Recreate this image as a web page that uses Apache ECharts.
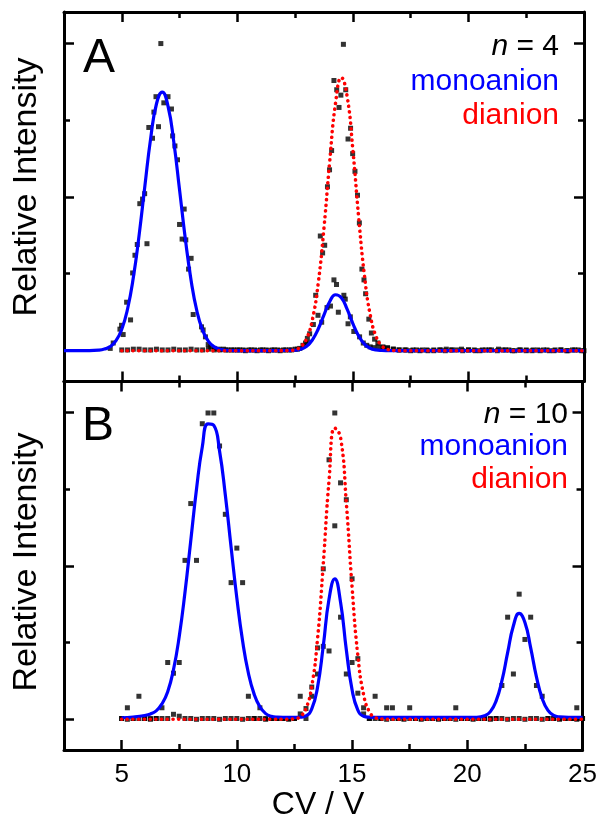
<!DOCTYPE html>
<html>
<head>
<meta charset="utf-8">
<script src="https://cdn.jsdelivr.net/npm/echarts@6/dist/echarts.min.js"></script>
<style>
  html, body { margin: 0; padding: 0; background: #fff; }
  #chart { width: 600px; height: 818px; }
</style>
</head>
<body>
<div id="chart"></div>
<script>
// ---- Axis ticks (CV / V and relative intensity) ----
const cvMajorTicks = [5, 10, 15, 20, 25];
const cvMinorTicks = [7.5, 12.5, 17.5, 22.5];
const intMajorTicks = [0, 2, 4];
const intMinorTicks = [1, 3];

// ---- Panel A (n = 4): measured points [CV, intensity] ----
const monoA = [
  [4.5,0.03],[4.63,0.10],[4.92,0.28],[4.99,0.33],[5.06,0.21],[5.21,0.63],[5.38,0.40],[5.47,1.01],
  [5.57,1.24],[5.67,1.38],[5.78,1.91],[5.9,1.97],[5.99,2.04],[6.09,1.39],[6.17,2.90],[6.33,2.76],
  [6.39,3.10],[6.48,3.30],[6.59,2.91],[6.69,3.99],[6.82,3.22],[7.0,3.30],[7.15,3.14],[7.2,2.79],
  [7.30,2.66],[7.41,2.48],[7.5,1.64],[7.61,1.45],[7.70,1.84],[7.77,1.44],[7.89,1.06],[8.0,1.20],
  [8.09,0.47],[8.45,0.31],[8.52,0.27],[8.62,0.18],[8.74,0.08],[8.85,0.05],[9.0,0.03],[9.2,0.02],
  [9.4,0.02],[9.6,0.01],[9.85,0.01],[10.1,0.01],[10.35,0.0],[10.6,0.01],[10.85,0.0],[11.1,0.01],
  [11.35,0.0],[11.6,0.01],[11.85,0.0],[12.1,0.01],[12.35,0.01],[12.6,0.02],[12.84,0.07],[13.03,0.10],
  [13.13,0.22],[13.49,0.46],[13.65,0.37],[13.88,0.56],[14.03,0.58],[14.18,0.92],[14.29,0.86],[14.37,0.50],
  [14.61,0.72],[14.67,0.67],[14.79,0.35],[14.89,0.44],[15.04,0.25],[15.29,0.18],[15.45,0.10],[15.6,0.07],
  [15.75,0.05],[15.9,0.04],[16.1,0.05],[16.3,0.04],[16.5,0.03],[16.75,0.02],[17.0,0.01],[17.3,0.01],
  [17.6,0.01],[17.9,0.0],[18.2,0.01],[18.5,0.0],[18.8,0.01],[19.04,0.02],[19.3,0.01],[19.7,0.02],
  [20.0,0.01],[20.3,0.0],[20.6,0.01],[20.9,0.01],[21.3,0.02],[21.6,0.01],[21.9,0.0],[22.2,0.01],
  [22.5,0.0],[22.8,0.01],[23.1,0.0],[23.4,0.01],[23.7,0.0],[24.0,0.01],[24.3,0.0],[24.6,0.01],[24.9,0.0]
];
const diA = [
  [5.0,0.01],[5.25,0.01],[5.5,0.02],[5.75,0.02],[6.0,0.01],[6.25,0.01],[6.5,0.02],[6.75,0.01],
  [7.0,0.01],[7.25,0.02],[7.5,0.01],[7.75,0.01],[8.0,0.02],[8.25,0.01],[8.5,0.01],[8.75,0.02],
  [9.0,0.01],[9.25,0.01],[9.5,0.01],[9.75,0.01],[10.0,0.01],[10.25,0.01],[10.5,0.01],[10.75,0.01],
  [11.0,0.01],[11.25,0.01],[11.5,0.01],[11.75,0.01],[12.0,0.01],[12.25,0.01],[12.5,0.02],[12.7,0.03],
  [12.95,0.10],[13.03,0.16],[13.29,0.34],[13.39,0.72],[13.59,1.49],[13.69,1.27],[13.78,1.37],[13.9,2.13],
  [13.99,2.35],[14.08,2.60],[14.18,3.51],[14.30,3.39],[14.40,3.16],[14.48,3.32],[14.59,3.98],[14.69,3.39],
  [14.79,2.75],[14.90,2.89],[14.99,2.56],[15.09,2.33],[15.2,2.02],[15.28,1.66],[15.39,1.06],[15.48,0.92],
  [15.55,0.74],[15.69,0.41],[15.80,0.23],[15.94,0.15],[16.08,0.10],[16.3,0.05],[16.5,0.04],[16.75,0.02],
  [17.0,0.01],[17.25,0.01],[17.5,0.0],[17.75,0.01],[18.0,0.01],[18.25,0.0],[18.5,0.01],[18.75,0.01],
  [19.0,0.0],[19.25,0.01],[19.5,0.01],[19.75,0.0],[20.0,0.01],[20.25,0.01],[20.5,0.0],[20.75,0.01],
  [21.0,0.01],[21.25,0.0],[21.5,0.01],[21.75,0.01],[22.0,0.0],[22.25,0.01],[22.5,0.01],[22.75,0.0],
  [23.0,0.01],[23.25,0.01],[23.5,0.0],[23.75,0.01],[24.0,0.01],[24.25,0.0],[24.5,0.01],[24.75,0.01],[25.0,0.0]
];
// Gaussian fits, panel A
const fitMonoA = [
  [2.5,0],[3.0,0],[3.5,0.001],[4.0,0.007],[4.25,0.021],[4.5,0.054],[4.75,0.130],[5.0,0.279],
  [5.25,0.542],[5.5,0.950],[5.75,1.502],[6.0,2.142],[6.25,2.758],[6.5,3.205],[6.75,3.360],[7.0,3.178],
  [7.25,2.713],[7.5,2.090],[7.75,1.453],[8.0,0.912],[8.25,0.516],[8.5,0.264],[8.75,0.121],[9.0,0.050],
  [9.25,0.019],[9.5,0.006],[10.0,0.001],[10.5,0.001],[11.0,0.001],[11.5,0.002],[12.0,0.003],[12.5,0.006],
  [12.75,0.021],[13.0,0.059],[13.25,0.142],[13.5,0.282],[13.75,0.466],[14.0,0.639],[14.25,0.727],[14.5,0.688],
  [14.75,0.540],[15.0,0.352],[15.25,0.191],[15.5,0.086],[15.75,0.032],[16.0,0.010],[16.25,0.003],[16.5,0.001],
  [17,0],[18,0],[19,0],[20,0],[21,0],[22,0],[23,0],[24,0],[25,0]
];
const fitDiA = [
  [5,0],[6,0],[7,0],[8,0],[9,0],[10,0],[11,0],[11.5,0],[12.0,0.001],[12.25,0.003],[12.5,0.015],
  [12.75,0.053],[13.0,0.159],[13.25,0.406],[13.5,0.877],[13.75,1.600],[14.0,2.468],[14.25,3.219],[14.5,3.548],
  [14.75,3.306],[15.0,2.605],[15.25,1.735],[15.5,0.977],[15.75,0.465],[16.0,0.187],[16.25,0.064],[16.5,0.018],
  [16.75,0.004],[17,0.001],[17.5,0],[18,0],[19,0],[20,0],[21,0],[22,0],[23,0],[24,0],[25,0]
];

// ---- Panel B (n = 10): measured points [CV, intensity] ----
const monoB = [
  [5.0,0.01],[5.25,0.15],[5.5,0.01],[5.75,0.30],[6.0,0.01],[6.25,0.01],[6.5,0.01],[6.75,0.15],
  [7.0,0.74],[7.25,0.60],[7.5,0.74],[7.75,2.07],[8.0,2.81],[8.25,2.07],[8.5,3.85],[8.75,3.99],
  [9.0,3.99],[9.25,3.56],[9.5,2.67],[9.75,1.78],[10.0,2.23],[10.25,1.78],[10.5,0.30],[10.75,0.01],
  [11.0,0.15],[11.25,0.01],[11.5,0.01],[11.75,0.01],[12.0,0.01],[12.25,0.01],[12.5,0.01],[12.75,0.07],
  [13.0,0.01],[13.25,0.30],[13.5,0.59],[13.75,0.95],[14.0,0.89],[14.25,2.52],[14.5,1.33],[14.75,0.59],
  [15.0,0.74],[15.25,0.34],[15.5,0.07],[15.75,0.01],[16.0,0.01],[16.25,0.01],[16.5,0.15],[16.75,0.15],
  [17.0,0.01],[17.25,0.01],[17.5,0.15],[17.75,0.01],[18.0,0.01],[18.25,0.01],[18.5,0.01],[18.75,0.01],
  [19.0,0.01],[19.25,0.01],[19.5,0.15],[19.75,0.01],[20.0,0.01],[20.25,0.01],[20.5,0.01],[20.75,0.01],
  [21.0,0.01],[21.25,0.01],[21.5,0.44],[21.75,1.33],[22.0,0.59],[22.25,1.63],[22.5,1.04],[22.75,1.33],
  [23.0,0.44],[23.25,0.30],[23.5,0.01],[23.75,0.01],[24.0,0.01],[24.25,0.01],[24.5,0.01],[24.75,0.15],[25.0,0.01]
];
const diB = [
  [5.0,0.01],[5.25,0.0],[5.5,0.01],[5.75,0.01],[6.0,0.01],[6.25,0.0],[6.5,0.01],[6.75,0.01],
  [7.0,0.01],[7.25,0.065],[7.5,0.04],[7.75,0.01],[8.0,0.01],[8.25,0.0],[8.5,0.01],[8.75,0.01],
  [9.0,0.01],[9.25,0.0],[9.5,0.01],[9.75,0.01],[10.0,0.01],[10.25,0.0],[10.5,0.01],[10.75,0.01],
  [11.0,0.01],[11.25,0.0],[11.5,0.01],[11.75,0.01],[12.0,0.01],[12.25,0.0],[12.5,0.01],[12.75,0.30],
  [13.0,0.14],[13.25,0.42],[13.5,0.93],[13.75,1.96],[14.0,3.38],[14.25,3.99],[14.5,3.08],[14.75,2.86],
  [15.0,1.83],[15.25,0.79],[15.5,0.15],[15.75,0.01],[16.0,0.30],[16.25,0.01],[16.5,0.0],[16.75,0.01],
  [17.0,0.01],[17.25,0.0],[17.5,0.01],[17.75,0.01],[18.0,0.0],[18.25,0.01],[18.5,0.01],[18.75,0.0],
  [19.0,0.01],[19.25,0.01],[19.5,0.0],[19.75,0.01],[20.0,0.01],[20.25,0.0],[20.5,0.01],[20.75,0.01],
  [21.0,0.0],[21.25,0.01],[21.5,0.01],[21.75,0.0],[22.0,0.01],[22.25,0.01],[22.5,0.0],[22.75,0.01],
  [23.0,0.01],[23.25,0.0],[23.5,0.01],[23.75,0.01],[24.0,0.0],[24.25,0.01],[24.5,0.01],[24.75,0.0],[25.0,0.01]
];
// Gaussian fits, panel B
const fitMonoB = [
  [5.0,0.02],[5.5,0.03],[6.0,0.05],[6.25,0.07],[6.5,0.11],[6.75,0.20],[7.0,0.36],[7.25,0.645],
  [7.5,1.079],[7.75,1.654],[8.0,2.326],[8.25,2.999],[8.5,3.547],[8.75,3.848],[9.0,3.828],[9.25,3.493],
  [9.5,2.922],[9.75,2.243],[10.0,1.578],[10.25,1.019],[10.5,0.603],[10.75,0.328],[11.0,0.163],[11.25,0.074],
  [11.5,0.038],[11.75,0.027],[12.0,0.025],[12.5,0.025],[12.75,0.028],[13.0,0.045],[13.25,0.135],[13.5,0.416],
  [13.75,0.956],[14.0,1.566],[14.25,1.830],[14.5,1.524],[14.75,0.906],[15.0,0.384],[15.25,0.120],[15.5,0.040],
  [15.75,0.027],[16.0,0.025],[17,0.025],[18,0.025],[19,0.025],[20,0.025],[20.25,0.026],[20.5,0.03],
  [20.75,0.045],[21.0,0.10],[21.25,0.240],[21.5,0.499],[21.75,0.868],[22.0,1.218],[22.25,1.379],[22.5,1.260],
  [22.75,0.930],[23.0,0.553],[23.25,0.270],[23.5,0.115],[23.75,0.050],[24.0,0.032],[24.5,0.026],[25.0,0.025]
];
const fitDiB = [
  [5,0],[6,0],[7,0],[8,0],[9,0],[10,0],[11,0],[11.5,0],[12.0,0.001],[12.25,0.002],[12.5,0.007],
  [12.75,0.036],[13.0,0.139],[13.25,0.428],[13.5,1.044],[13.75,2.022],[14.0,3.109],[14.25,3.793],[14.5,3.672],
  [14.75,2.821],[15.0,1.721],[15.25,0.833],[15.5,0.320],[15.75,0.098],[16.0,0.024],[16.25,0.005],[16.5,0.001],
  [17,0],[18,0],[19,0],[20,0],[21,0],[22,0],[23,0],[24,0],[25,0]
];

const panelLabels = ['A', 'B'];
const sizeLabels = [4, 10];
const speciesLabels = ['monoanion', 'dianion'];
const axisTitleX = 'CV / V';
const axisTitleY = 'Relative Intensity';

// ---- Layout and styling ----
const FONT = "'Liberation Sans', Arial, Helvetica, sans-serif";
const BLUE = '#0000ff';
const RED = '#ff0000';
const grids = [
  { left: 64, right: 16, top: 12, height: 369.5 },
  { left: 64, right: 16, top: 381.5, height: 368.5 }
];

function xAxes(g) {
  const base = {
    gridIndex: g, type: 'value', min: 2.5, max: 25,
    splitLine: { show: false }
  };
  const line = { show: true, onZero: false, lineStyle: { color: '#000', width: 3 } };
  const tickStyle = { color: '#000', width: 2.5 };
  return [
    Object.assign({}, base, {
      position: 'bottom', axisLine: line,
      axisTick: { show: true, inside: true, length: 10, lineStyle: tickStyle, customValues: cvMajorTicks },
      axisLabel: { show: g === 1, customValues: cvMajorTicks, color: '#000', fontSize: 26, fontFamily: FONT, margin: 12 }
    }),
    Object.assign({}, base, {
      position: 'bottom', axisLine: { show: false, onZero: false },
      axisTick: { show: true, inside: true, length: 6, lineStyle: tickStyle, customValues: cvMinorTicks },
      axisLabel: { show: false }
    }),
    Object.assign({}, base, {
      position: 'top', axisLine: line,
      axisTick: { show: true, inside: true, length: 10, lineStyle: tickStyle, customValues: cvMajorTicks },
      axisLabel: { show: false }
    }),
    Object.assign({}, base, {
      position: 'top', axisLine: { show: false, onZero: false },
      axisTick: { show: true, inside: true, length: 6, lineStyle: tickStyle, customValues: cvMinorTicks },
      axisLabel: { show: false }
    })
  ];
}

function yAxes(g) {
  const base = {
    gridIndex: g, type: 'value', min: -0.4, max: 4.4,
    splitLine: { show: false }, axisLabel: { show: false }
  };
  const line = { show: true, onZero: false, lineStyle: { color: '#000', width: 3 } };
  const tickStyle = { color: '#000', width: 2.5 };
  return [
    Object.assign({}, base, {
      position: 'left', axisLine: line,
      axisTick: { show: true, inside: true, length: 10, lineStyle: tickStyle, customValues: intMajorTicks }
    }),
    Object.assign({}, base, {
      position: 'left', axisLine: { show: false, onZero: false },
      axisTick: { show: true, inside: true, length: 6, lineStyle: tickStyle, customValues: intMinorTicks }
    }),
    Object.assign({}, base, {
      position: 'right', axisLine: line,
      axisTick: { show: true, inside: true, length: 10, lineStyle: tickStyle, customValues: intMajorTicks }
    }),
    Object.assign({}, base, {
      position: 'right', axisLine: { show: false, onZero: false },
      axisTick: { show: true, inside: true, length: 6, lineStyle: tickStyle, customValues: intMinorTicks }
    })
  ];
}

function pointSeries(data, axisIdx) {
  return {
    type: 'scatter', data: data, xAxisIndex: axisIdx, yAxisIndex: axisIdx,
    symbol: 'rect', symbolSize: 5, itemStyle: { color: '#000' }, z: 2, silent: true
  };
}
function fitSeries(data, axisIdx, color, dotted) {
  return {
    type: 'line', data: data, xAxisIndex: axisIdx, yAxisIndex: axisIdx,
    showSymbol: false, smooth: 0.5, z: dotted ? 4 : 3, silent: true,
    lineStyle: dotted
      ? { color: color, width: 3.6, type: [0.1, 5.6], cap: 'round' }
      : { color: color, width: 3.2 }
  };
}

const legendFont = 30;
function legendBlock(rightX, yN, yMono, yDi, nValue) {
  return [
    { type: 'text', x: rightX, y: yN, style: {
        text: '{i|n} = ' + nValue, align: 'right', verticalAlign: 'middle',
        font: legendFont + 'px ' + FONT, fill: '#000',
        rich: { i: { fontStyle: 'italic', fontSize: legendFont, fontFamily: FONT, fill: '#000' } } } },
    { type: 'text', x: rightX, y: yMono, style: {
        text: speciesLabels[0], align: 'right', verticalAlign: 'middle',
        font: legendFont + 'px ' + FONT, fill: BLUE } },
    { type: 'text', x: rightX, y: yDi, style: {
        text: speciesLabels[1], align: 'right', verticalAlign: 'middle',
        font: legendFont + 'px ' + FONT, fill: RED } }
  ];
}

const chart = echarts.init(document.getElementById('chart'), null, { renderer: 'canvas' });
chart.setOption({
  animation: false,
  backgroundColor: '#fff',
  grid: grids,
  xAxis: xAxes(0).concat(xAxes(1)),
  yAxis: yAxes(0).concat(yAxes(1)),
  series: [
    pointSeries(monoA, 0), pointSeries(diA, 0),
    fitSeries(fitMonoA, 0, BLUE, false), fitSeries(fitDiA, 0, RED, true),
    pointSeries(monoB, 4), pointSeries(diB, 4),
    fitSeries(fitMonoB, 4, BLUE, false), fitSeries(fitDiB, 4, RED, true)
  ],
  graphic: [
    { type: 'text', x: 83, y: 59, style: { text: panelLabels[0], verticalAlign: 'middle', font: '48px ' + FONT, fill: '#000' } },
    { type: 'text', x: 82, y: 427, style: { text: panelLabels[1], verticalAlign: 'middle', font: '48px ' + FONT, fill: '#000' } },
    { type: 'text', x: 27, y: 187, rotation: Math.PI / 2, style: { text: axisTitleY, align: 'center', verticalAlign: 'middle', font: '34px ' + FONT, fill: '#000' } },
    { type: 'text', x: 27, y: 562, rotation: Math.PI / 2, style: { text: axisTitleY, align: 'center', verticalAlign: 'middle', font: '34px ' + FONT, fill: '#000' } },
    { type: 'text', x: 318, y: 805, style: { text: axisTitleX, align: 'center', verticalAlign: 'middle', font: '32px ' + FONT, fill: '#000' } }
  ].concat(legendBlock(559, 47, 81.7, 116, sizeLabels[0]))
   .concat(legendBlock(568, 415, 447, 480, sizeLabels[1]))
});
</script>
</body>
</html>
